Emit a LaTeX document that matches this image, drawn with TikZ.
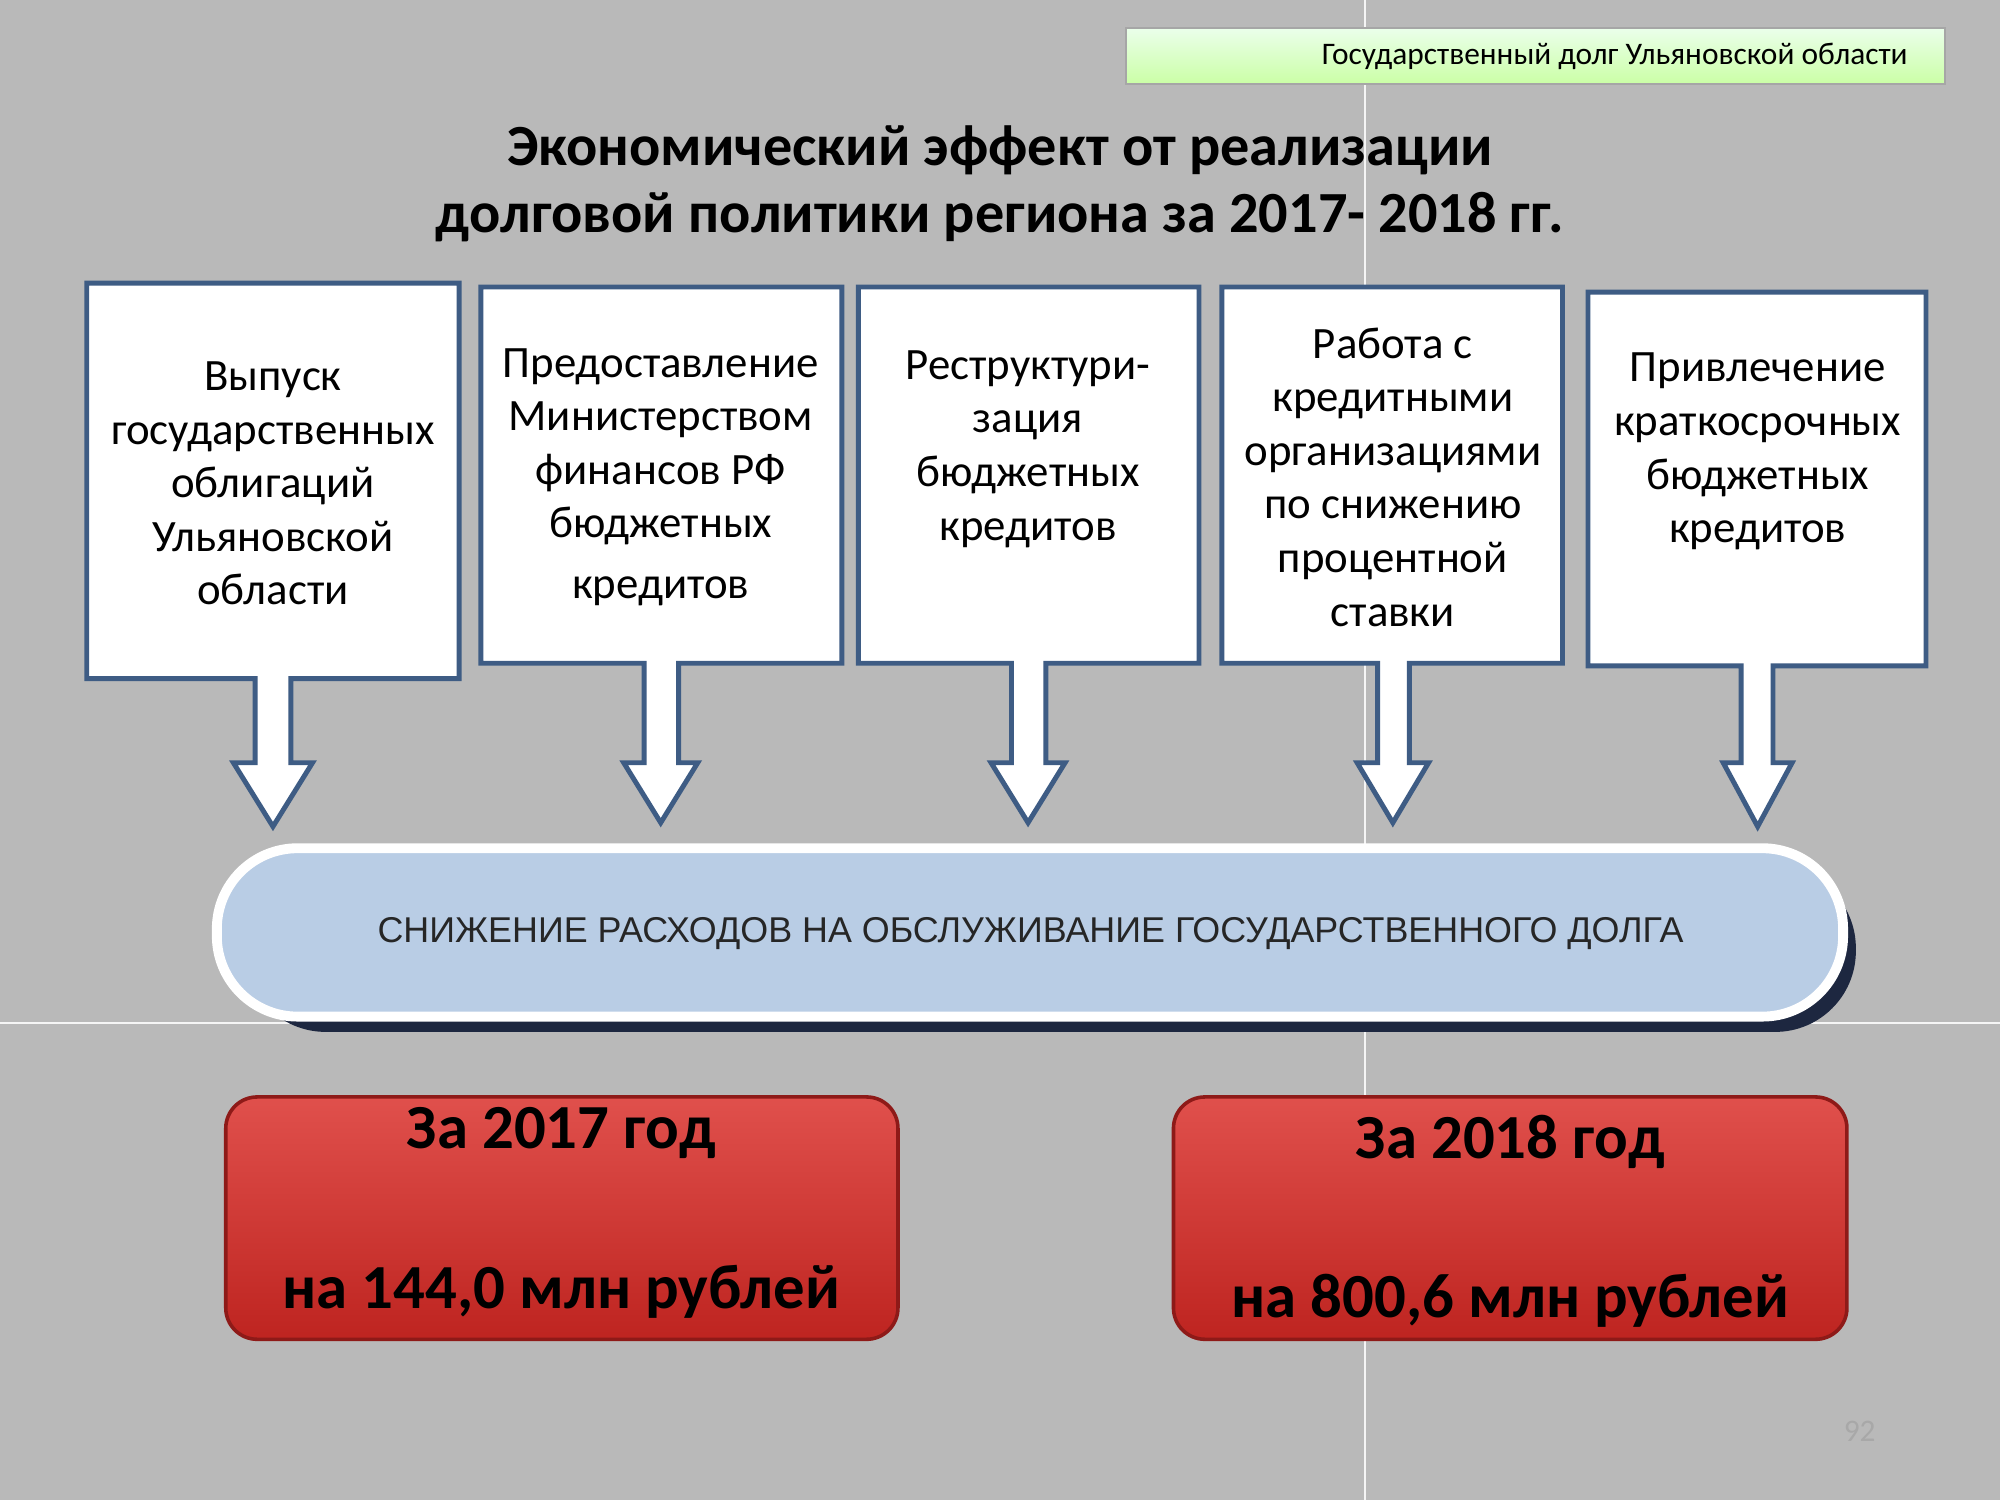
\documentclass[tikz,border=0pt]{standalone}
\usepackage{fontspec}
\setmainfont{Carlito}
\newfontfamily\arialf{Liberation Sans}
\definecolor{bg}{HTML}{B9B9B9}
\definecolor{bblue}{HTML}{3E5C84}
\definecolor{pill}{HTML}{B9CDE5}
\definecolor{navy}{HTML}{1D2740}
\definecolor{redt}{HTML}{E0504C}
\definecolor{redb}{HTML}{BE2420}
\definecolor{redd}{HTML}{8E1A18}
\tikzset{
  callout/.style={draw=bblue,line width=1.1pt,fill=white,line join=miter},
  btext/.style={align=center,font=\fontsize{10}{11.95}\selectfont,text=black},
  redbox/.style={draw=redd,line width=0.8pt,rounded corners=7pt,top color=redt,bottom color=redb},
  rtext/.style={font=\fontsize{14}{16}\bfseries\selectfont,text=black},
}
\begin{document}
\begin{tikzpicture}[x=0.1mm,y=-0.1mm]
\useasboundingbox (0,0) rectangle (1568,1176);
\fill[bg] (0,0) rectangle (1568,1176);
\draw[white!85!bg,line width=0.4pt] (1070,0) -- (1070,1176) (0,802) -- (1568,802);
% header
\shade[top color=green!8!white,bottom color=green!45!lime!35!white,draw=gray!70] (883,22) rectangle (1525,66);
\node[anchor=east,font=\fontsize{7}{8}\selectfont] (hdr) at (1508,44) {Государственный долг Ульяновской области};
% title
\node[align=center,font=\fontsize{13}{14.8}\bfseries\selectfont] (title) at (784,144) {Экономический эффект от реализации\\долговой политики региона за 2017- 2018 гг.};
\newcommand\co[9]{%
 \draw[callout] (#1,#2) -- (#3,#2) -- (#3,#4) -- (#6,#4) -- (#6,598) -- (#8,598) -- (#9,#7)
   -- ({2*#9-#8},598) -- (#5,598) -- (#5,#4) -- (#1,#4) -- cycle;}
\co{68}{222}{360}{532}{200}{228}{648}{245}{214}
\co{377}{225}{660}{520}{505}{532}{645}{547}{518}
\co{673}{225}{940}{520}{793}{820}{645}{835}{806}
\co{958}{225}{1225}{520}{1080}{1105}{645}{1120}{1092}
\co{1245}{229}{1510}{522}{1365}{1390}{648}{1405}{1378}
\node[btext] (t1) at (214,379) {Выпуск\\государственных\\облигаций\\Ульяновской\\области};
\node[btext] (t2) at (518,374) {Предоставление\\Министерством\\финансов РФ\\бюджетных\\[1.5pt]кредитов};
\node[btext] (t3) at (806,352) {Реструктури-\\зация\\бюджетных\\кредитов};
\node[btext] (t4) at (1092,374) {Работа с\\кредитными\\организациями\\по снижению\\процентной\\ставки};
\node[btext] (t5) at (1378,354) {Привлечение\\краткосрочных\\бюджетных\\кредитов};
% pill
\fill[navy,rounded corners=18pt] (192,680) rectangle (1455,809);
\draw[fill=pill,draw=white,line width=2.2pt,rounded corners=18pt] (170,665) rectangle (1445,797);
\node[font=\arialf\fontsize{8}{9}\selectfont,text=black!85] (pilltext) at (808,732) {СНИЖЕНИЕ РАСХОДОВ НА ОБСЛУЖИВАНИЕ ГОСУДАРСТВЕННОГО ДОЛГА};
% red boxes
\shade[redbox] (177,860) rectangle (704,1050);
\shade[redbox] (920,860) rectangle (1448,1050);
\node[rtext] (r1a) at (440,888) {За 2017 год};
\node[rtext] (r1b) at (440,1013) {на 144,0 млн рублей};
\node[rtext] (r2a) at (1184,895) {За 2018 год};
\node[rtext] (r2b) at (1184,1020) {на 800,6 млн рублей};
\node[font=\fontsize{7}{8}\selectfont,text=gray!30!bg] (pg) at (1458,1122) {92};
\end{tikzpicture}
\end{document}
